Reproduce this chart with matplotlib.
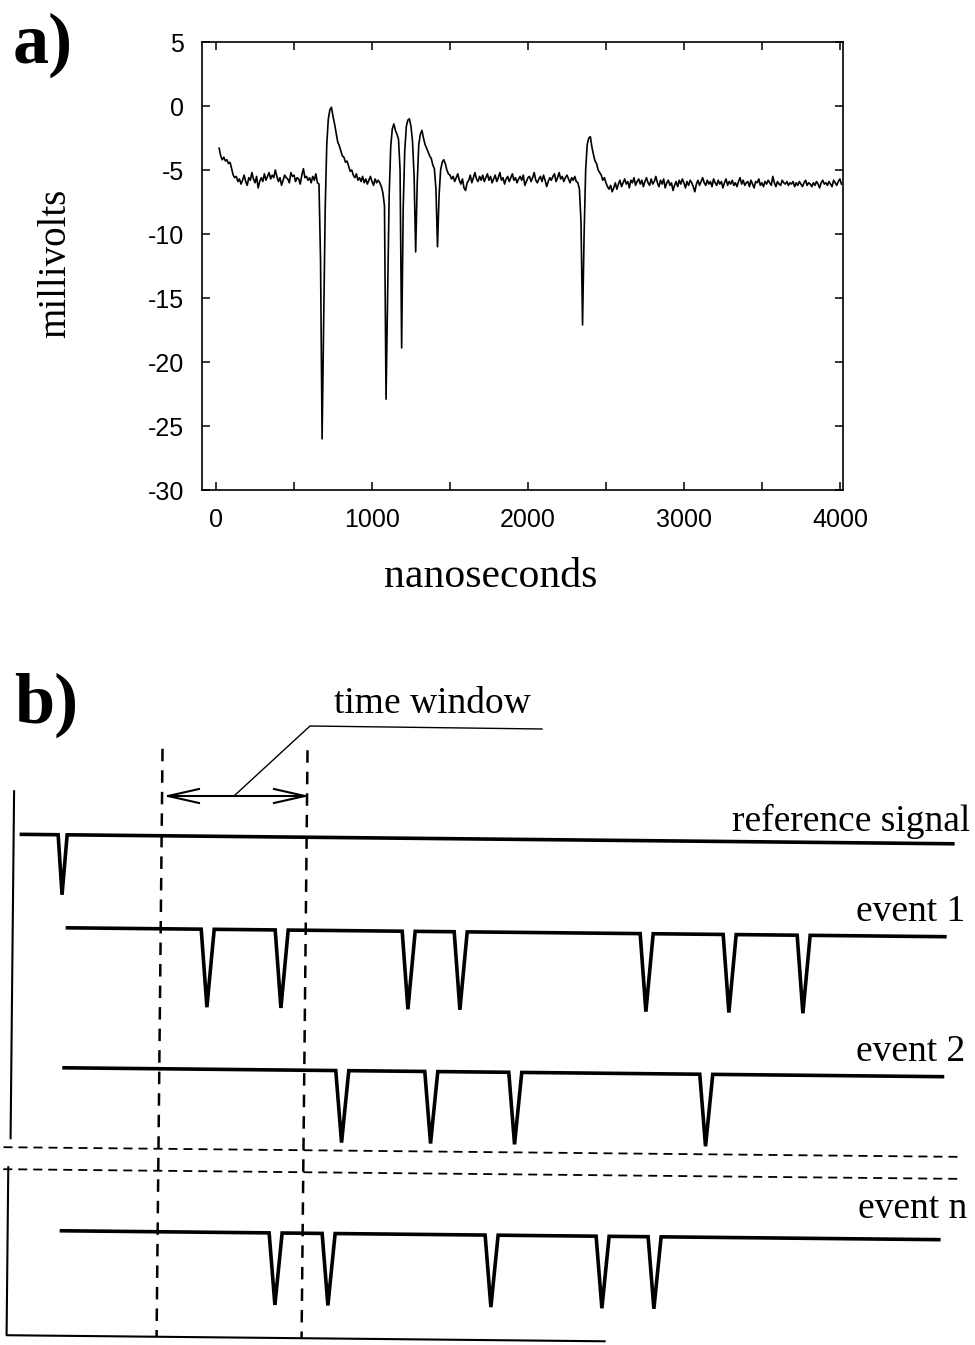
import numpy as np
import matplotlib
matplotlib.use("Agg")
import matplotlib.pyplot as plt
from matplotlib.transforms import Affine2D

plt.rcParams['axes.unicode_minus'] = False
plt.rcParams['lines.scale_dashes'] = False

# ---------------- data: panel a) oscilloscope trace ----------------
# sampled every 10 ns starting at 20 ns
sample_start_ns = 20
sample_step_ns = 10
signal_mv = [
    -3.3, -3.9, -4.2, -4.0, -4.3, -4.2, -4.5, -4.4, -4.9, -5.4,
    -5.6, -5.5, -5.9, -5.7, -6.1, -5.8, -5.4, -5.9, -6.2, -5.6,
    -5.8, -5.2, -5.7, -6.0, -5.5, -6.4, -5.9, -5.6, -5.9, -5.3,
    -5.8, -5.5, -5.2, -5.7, -5.4, -5.6, -5.0, -5.5, -5.9, -5.6,
    -6.2, -5.8, -5.4, -5.6, -5.7, -6.0, -5.2, -5.5, -5.4, -5.9,
    -5.6, -5.7, -6.1, -5.4, -4.9, -5.6, -5.5, -5.8, -5.6, -6.0,
    -5.5, -5.8, -5.3, -6.0, -6.1, -12.0, -26.0, -17.0, -8.0, -3.0,
    -1.0, -0.3, -0.1, -0.8, -1.4, -2.1, -2.8, -3.1, -3.5, -3.9,
    -4.0, -4.4, -4.3, -4.7, -5.1, -5.0, -5.4, -5.6, -5.3, -5.8,
    -5.6, -5.9, -5.5, -6.0, -5.7, -6.1, -5.8, -5.5, -5.9, -6.2,
    -5.7, -6.0, -5.8, -6.0, -6.3, -6.8, -7.8, -22.9, -15.0, -7.0,
    -3.2, -1.8, -1.4, -1.9, -2.2, -2.6, -5.0, -18.9, -8.0, -3.5,
    -1.6, -1.1, -1.0, -1.6, -2.8, -5.5, -11.4, -6.0, -3.0, -2.2,
    -1.9, -2.5, -3.0, -3.3, -3.6, -3.9, -4.1, -4.6, -4.9, -6.5,
    -11.0, -7.0, -5.0, -4.4, -4.2, -4.5, -5.0, -5.3, -5.4, -5.7,
    -5.5, -5.9, -5.6, -5.3, -5.8, -6.1, -5.7, -6.4, -6.6, -6.0,
    -5.8, -5.4, -6.0, -5.6, -5.2, -5.7, -5.9, -5.5, -5.8, -5.4,
    -5.9, -5.6, -5.3, -5.8, -5.5, -6.0, -5.7, -5.4, -5.9, -5.6,
    -5.2, -5.8, -5.6, -6.1, -5.7, -5.5, -5.9, -5.6, -5.3, -5.8,
    -5.6, -6.0, -5.7, -5.5, -5.8, -5.4, -6.2, -5.9, -5.6, -5.5,
    -5.9, -5.6, -5.2, -5.8, -6.0, -5.7, -5.5, -5.9, -5.4, -5.8,
    -6.3, -5.9, -5.6, -5.8, -5.5, -5.3, -5.9, -5.6, -5.2, -5.7,
    -5.5, -5.9, -5.6, -5.4, -5.7, -6.0, -5.6, -5.8, -5.5, -5.9,
    -6.0, -6.5, -9.0, -17.1, -10.0, -5.0, -3.0, -2.5, -2.4, -3.2,
    -3.8, -4.3, -4.5, -5.0, -5.2, -5.4, -5.8, -5.6, -6.0, -6.3,
    -6.5, -6.2, -6.7, -6.4, -6.0, -6.5, -6.1, -5.8, -6.3, -6.0,
    -5.7, -6.1, -5.9, -6.4, -5.8, -6.0, -5.6, -6.2, -5.9, -5.7,
    -6.1, -5.8, -6.3, -5.9, -5.6, -6.0, -6.2, -5.7, -6.1, -5.9,
    -5.5, -6.0, -6.3, -5.8, -6.1, -5.7, -6.4, -6.0, -5.8, -6.2,
    -6.0, -6.6, -6.2, -5.9, -6.3, -5.8, -6.1, -5.7, -6.0, -6.4,
    -5.9, -6.2, -5.8, -6.0, -6.3, -6.7, -6.1, -5.8, -6.2, -5.9,
    -5.6, -6.0, -6.2, -5.8, -6.1, -5.9, -6.3, -5.7, -6.0, -6.2,
    -5.8, -6.1, -5.9, -6.4, -6.0, -5.7, -6.2, -5.9, -6.1, -5.8,
    -6.2, -6.0, -6.3, -5.9, -5.6, -6.1, -5.8, -6.2, -6.0, -5.9,
    -6.3, -5.8, -6.1, -6.4, -5.9, -6.0, -5.7, -6.2, -6.0, -6.3,
    -5.9, -6.1, -5.8, -6.0, -6.2, -5.5, -6.0, -6.3, -5.9, -6.1,
    -6.2, -5.8, -6.0, -6.1, -5.9, -6.2, -6.0, -6.1, -5.9, -6.3,
    -6.0, -6.2, -5.9, -6.1, -6.3, -6.0, -5.8, -6.2, -6.0, -6.1,
    -6.3, -6.0, -6.2, -5.9, -6.1, -6.4, -6.0, -5.8, -6.1, -6.0,
    -6.2, -5.9, -6.1, -6.3, -5.8, -6.0, -6.2, -5.9, -5.7, -6.1,
]
sample_ns = sample_start_ns + sample_step_ns * np.arange(len(signal_mv))

x_ticks = [0, 500, 1000, 1500, 2000, 2500, 3000, 3500, 4000]
x_tick_labels = ['0', '', '1000', '', '2000', '', '3000', '', '4000']
y_ticks = [-30, -25, -20, -15, -10, -5, 0, 5]
y_tick_labels = ['-30', '-25', '-20', '-15', '-10', '-5', '0', '5']

# ---------------- data: panel b) schematic ----------------
row_labels = ['reference signal', 'event 1', 'event 2', 'event n']
ref_spikes = [61]
event1_spikes = [207, 281, 408, 460, 646, 729, 803]
event2_spikes = [343, 432, 516, 707]
eventn_spikes = [278, 331, 494, 605, 657]
window_edges = [160, 305]
window_label = 'time window'

# ---------------- figure ----------------
W, H = 975, 1345
fig = plt.figure(figsize=(W / 100, H / 100), dpi=100)

SERIF = ['Liberation Serif', 'DejaVu Serif']
SANS = ['Liberation Sans', 'DejaVu Sans']

# panel a axes
ax = fig.add_axes([202 / W, 1 - 490 / H, (843 - 202) / W, (490 - 42) / H])
ax.plot(sample_ns, signal_mv, color='black', lw=1.2)
ax.set_xlim(-90, 4020)
ax.set_ylim(-30, 5)
ax.set_xticks(x_ticks)
ax.set_xticklabels(x_tick_labels)
ax.set_yticks(y_ticks)
ax.set_yticklabels(y_tick_labels)
ax.tick_params(direction='in', length=6, width=1.1, top=True, right=True,
               labelsize=18, pad=13)
for lab in ax.get_xticklabels() + ax.get_yticklabels():
    lab.set_family(SANS)
for sp in ax.spines.values():
    sp.set_linewidth(1.2)

# overlay in pixel coordinates (y down)
ov = fig.add_axes([0, 0, 1, 1], zorder=-1)
ov.set_xlim(0, W)
ov.set_ylim(H, 0)
ov.axis('off')

ov.text(13, 63, 'a)', family=SERIF, fontsize=52, fontweight='bold',
        ha='left', va='baseline')
ov.text(491, 577, 'nanoseconds', family=SERIF, fontsize=30,
        ha='center', va='center')
ov.text(56, 263, 'millivolts', family=SERIF, fontsize=28, rotation=90,
        ha='center', va='center')
ov.text(14, 723, 'b)', family=SERIF, fontsize=52, fontweight='bold',
        ha='left', va='baseline')

# ---- schematic (drawn slightly rotated like the scanned original) ----
rot = Affine2D().rotate_deg_around(480, 1000, 0.58) + ov.transData


def pulse_row(x0, x1, y, spikes, depth, hw):
    xs, ys = [x0], [y]
    for s in spikes:
        xs += [s - hw, s, s + hw]
        ys += [y, y + depth, y]
    xs.append(x1)
    ys.append(y)
    return xs, ys


rows = [
    (18, 953, 839, ref_spikes, 60, 4.5),
    (65, 946, 932, event1_spikes, 78, 6.5),
    (63, 945, 1072, event2_spikes, 72, 6.5),
    (62, 943, 1235, eventn_spikes, 72, 6.5),
]
for x0, x1, y, spikes, depth, hw in rows:
    xs, ys = pulse_row(x0, x1, y, spikes, depth, hw)
    ov.plot(xs, ys, color='black', lw=2.6, transform=rot,
            solid_joinstyle='miter', solid_capstyle='butt')

label_pos = [(970, 831), (965, 921), (965, 1061), (967, 1218)]
for (lx, ly), txt in zip(label_pos, row_labels):
    ov.text(lx, ly, txt, family=SERIF, fontsize=27, ha='right', va='baseline')

# time window dashed verticals
for xe in window_edges:
    ov.plot([xe, xe], [752, 1340], color='black', lw=1.8,
            dashes=(9, 6.5), transform=rot)

# horizontal dashed break lines
for yb in [1152, 1174]:
    ov.plot([5, 965], [yb, yb], color='black', lw=1.3,
            dashes=(6.5, 4.3), transform=rot)

# frame lines
ov.plot([12, 12], [796, 1143], color='black', lw=1.5, transform=rot)
ov.plot([10, 10, 608], [1172, 1340, 1340], color='black', lw=1.5, transform=rot)

# double arrow for the time window
ya = 796
xl, xr = window_edges[0] + 8, window_edges[1]
ov.plot([xl, xr], [ya, ya], color='black', lw=1.5)
for tip, sgn in [(xl, 1), (xr, -1)]:
    ov.plot([tip + sgn * 31, tip, tip + sgn * 31], [ya - 7, ya, ya + 7],
            color='black', lw=1.5)

# leader line and label
ov.plot([234, 310, 542], [796, 726, 729], color='black', lw=1.0)
ov.text(432, 713, window_label, family=SERIF, fontsize=27,
        ha='center', va='baseline')

fig.savefig('out.png', dpi=100)
